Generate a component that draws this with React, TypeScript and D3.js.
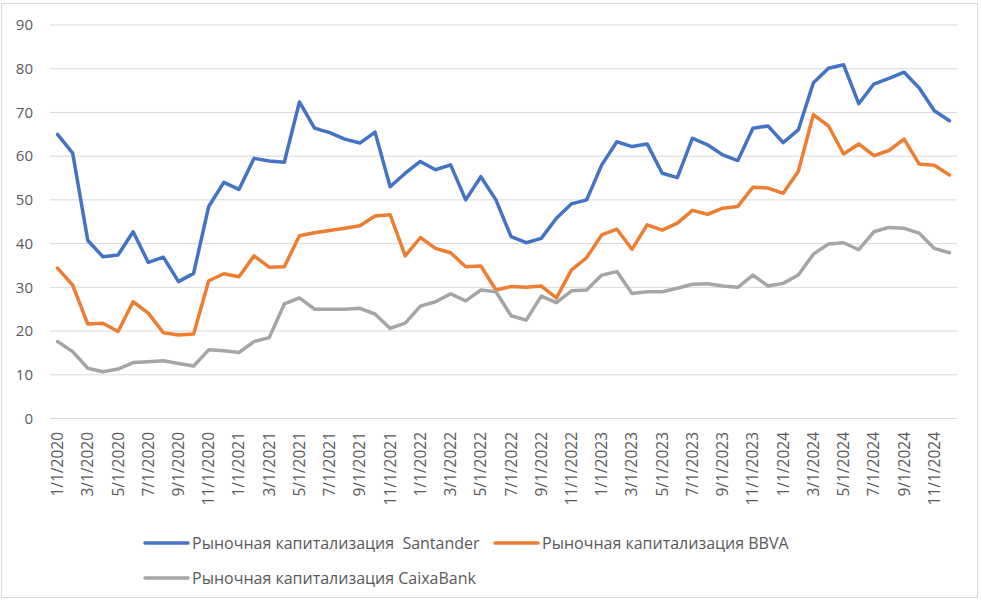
import React from "react";
import * as d3 from "d3";

const categories: string[] = [
  "1/1/2020","2/1/2020","3/1/2020","4/1/2020","5/1/2020","6/1/2020","7/1/2020","8/1/2020","9/1/2020","10/1/2020","11/1/2020","12/1/2020",
  "1/1/2021","2/1/2021","3/1/2021","4/1/2021","5/1/2021","6/1/2021","7/1/2021","8/1/2021","9/1/2021","10/1/2021","11/1/2021","12/1/2021",
  "1/1/2022","2/1/2022","3/1/2022","4/1/2022","5/1/2022","6/1/2022","7/1/2022","8/1/2022","9/1/2022","10/1/2022","11/1/2022","12/1/2022",
  "1/1/2023","2/1/2023","3/1/2023","4/1/2023","5/1/2023","6/1/2023","7/1/2023","8/1/2023","9/1/2023","10/1/2023","11/1/2023","12/1/2023",
  "1/1/2024","2/1/2024","3/1/2024","4/1/2024","5/1/2024","6/1/2024","7/1/2024","8/1/2024","9/1/2024","10/1/2024","11/1/2024","12/1/2024",
];

const santander: number[] = [
  65.0, 60.7, 40.7, 37.0, 37.4, 42.7, 35.7, 36.9, 31.3, 33.2, 48.5, 54.0,
  52.4, 59.5, 58.9, 58.6, 72.4, 66.4, 65.4, 63.9, 63.0, 65.5, 53.0, 56.1,
  58.8, 56.9, 58.0, 50.0, 55.3, 50.0, 41.6, 40.2, 41.2, 45.8, 49.1, 50.0,
  58.0, 63.3, 62.2, 62.8, 56.1, 55.1, 64.1, 62.6, 60.3, 59.0, 66.4, 66.9,
  63.1, 66.0, 76.8, 80.1, 80.9, 72.0, 76.5, 77.8, 79.2, 75.6, 70.4, 68.1,
];

const bbva: number[] = [
  34.4, 30.5, 21.6, 21.8, 19.9, 26.7, 24.1, 19.6, 19.1, 19.3, 31.5, 33.1,
  32.4, 37.2, 34.6, 34.7, 41.8, 42.5, 43.0, 43.5, 44.1, 46.3, 46.6, 37.2,
  41.4, 38.9, 37.9, 34.7, 34.9, 29.4, 30.2, 30.0, 30.3, 27.6, 34.0, 36.8,
  42.0, 43.3, 38.7, 44.3, 43.1, 44.7, 47.6, 46.7, 48.1, 48.5, 52.9, 52.7,
  51.5, 56.5, 69.5, 66.9, 60.5, 62.8, 60.1, 61.3, 63.9, 58.2, 57.9, 55.7,
];

const caixa: number[] = [
  17.6, 15.3, 11.5, 10.7, 11.3, 12.8, 13.0, 13.2, 12.6, 12.0, 15.7, 15.5,
  15.1, 17.6, 18.5, 26.2, 27.6, 25.0, 25.0, 25.0, 25.2, 23.9, 20.6, 21.8,
  25.7, 26.7, 28.5, 26.9, 29.4, 29.0, 23.5, 22.5, 28.0, 26.5, 29.2, 29.4,
  32.8, 33.6, 28.6, 29.0, 29.0, 29.8, 30.7, 30.8, 30.3, 30.0, 32.8, 30.3,
  30.9, 32.8, 37.6, 39.9, 40.2, 38.6, 42.7, 43.7, 43.5, 42.4, 38.9, 37.9,
];

const yTicks: number[] = [0, 10, 20, 30, 40, 50, 60, 70, 80, 90];

const seriesNames: string[] = [
  "Рыночная капитализация  Santander",
  "Рыночная капитализация BBVA",
  "Рыночная капитализация CaixaBank",
];
const seriesColors: string[] = ["#4472C4", "#ED7D31", "#A5A5A5"];

const W = 982;
const H = 600;
const plotLeft = 50;
const plotRight = 957;
const plotTop = 25;
const plotBottom = 418.5;

export default function App() {
  const x = d3.scaleBand<string>().domain(categories).range([plotLeft, plotRight]).padding(0);
  const y = d3.scaleLinear().domain([0, 90]).range([plotBottom, plotTop]);
  const cx = (c: string) => (x(c) as number) + x.bandwidth() / 2;

  const line = d3
    .line<number>()
    .x((_, i) => cx(categories[i]))
    .y((v) => y(v));

  const allSeries = [santander, bbva, caixa];
  const textColor = "#595959";
  const font = "'Open Sans', 'Noto Sans', sans-serif";

  const legendItems = [
    { name: seriesNames[0], color: seriesColors[0], lx: 145, ly: 543 },
    { name: seriesNames[1], color: seriesColors[1], lx: 495, ly: 543 },
    { name: seriesNames[2], color: seriesColors[2], lx: 145, ly: 578 },
  ];

  return (
    <svg
      width={W}
      height={H}
      style={{ position: "absolute", left: 0, top: 0, background: "#fff" }}
      fontFamily={font}
    >
      <rect x={0} y={0} width={W} height={H} fill="#fff" />
      <rect x={1.5} y={3.5} width={976} height={594} fill="none" stroke="#d9d9d9" strokeWidth={1} />
      {yTicks.map((t) => (
        <g key={t}>
          <line x1={plotLeft} x2={plotRight} y1={y(t)} y2={y(t)} stroke="#d9d9d9" strokeWidth={1} />
          <text x={33} y={y(t)} dy="0.35em" textAnchor="end" fill={textColor} fontSize={15}>
            {t}
          </text>
        </g>
      ))}
      {categories.map((c, i) =>
        i % 2 === 0 ? (
          <text
            key={c}
            transform={`translate(${cx(c) + 5.5},432) rotate(-90)`}
            textAnchor="end"
            fill={textColor}
            fontSize={15.5}
          >
            {c}
          </text>
        ) : null
      )}
      {allSeries.map((s, k) => (
        <path
          key={k}
          d={line(s) || ""}
          fill="none"
          stroke={seriesColors[k]}
          strokeWidth={3.5}
          strokeLinejoin="round"
          strokeLinecap="round"
        />
      ))}
      {legendItems.map((it) => (
        <g key={it.name}>
          <line x1={it.lx} x2={it.lx + 43} y1={it.ly} y2={it.ly} stroke={it.color} strokeWidth={3.5} strokeLinecap="round" />
          <text
            x={it.lx + 47}
            y={it.ly}
            dy="0.35em"
            fill={textColor}
            fontSize={16}
            style={{ whiteSpace: "pre" }}
          >
            {it.name}
          </text>
        </g>
      ))}
    </svg>
  );
}
